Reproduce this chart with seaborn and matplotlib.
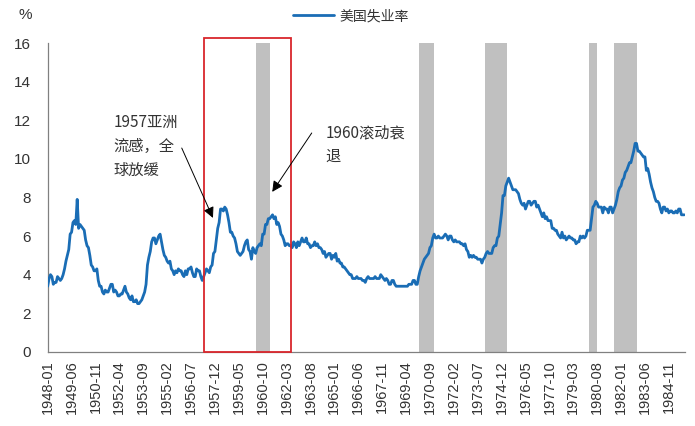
import numpy as np
import pandas as pd
import matplotlib
matplotlib.use("Agg")
import matplotlib.pyplot as plt
from matplotlib.patches import Rectangle
import seaborn as sns

# ---------------- data ----------------
start_month = "1948-01"
end_month = "1985-10"
unemployment_rate = [
    3.4, 3.8, 4.0, 3.9, 3.5, 3.6, 3.6, 3.9, 3.8, 3.7, 3.8, 4.0,   # 1948
    4.3, 4.7, 5.0, 5.3, 6.1, 6.2, 6.7, 6.8, 6.6, 7.9, 6.4, 6.6,   # 1949
    6.5, 6.4, 6.3, 5.8, 5.5, 5.4, 5.0, 4.5, 4.4, 4.2, 4.2, 4.3,   # 1950
    3.7, 3.4, 3.4, 3.1, 3.0, 3.2, 3.1, 3.1, 3.3, 3.5, 3.5, 3.1,   # 1951
    3.2, 3.1, 2.9, 2.9, 3.0, 3.0, 3.2, 3.4, 3.1, 3.0, 2.8, 2.7,   # 1952
    2.9, 2.6, 2.6, 2.7, 2.5, 2.5, 2.6, 2.7, 2.9, 3.1, 3.5, 4.5,   # 1953
    4.9, 5.2, 5.7, 5.9, 5.9, 5.6, 5.8, 6.0, 6.1, 5.7, 5.3, 5.0,   # 1954
    4.9, 4.7, 4.6, 4.7, 4.3, 4.2, 4.0, 4.2, 4.1, 4.3, 4.2, 4.2,   # 1955
    4.0, 3.9, 4.2, 4.0, 4.3, 4.3, 4.4, 4.1, 3.9, 3.9, 4.3, 4.2,   # 1956
    4.2, 3.9, 3.7, 3.9, 4.1, 4.3, 4.2, 4.1, 4.4, 4.5, 5.1, 5.2,   # 1957
    5.8, 6.4, 6.7, 7.4, 7.4, 7.3, 7.5, 7.4, 7.1, 6.7, 6.2, 6.2,   # 1958
    6.0, 5.9, 5.6, 5.2, 5.1, 5.0, 5.1, 5.2, 5.5, 5.7, 5.8, 5.3,   # 1959
    5.2, 4.8, 5.4, 5.2, 5.1, 5.4, 5.5, 5.6, 5.5, 6.1, 6.1, 6.6,   # 1960
    6.6, 6.9, 6.9, 7.0, 7.1, 6.9, 7.0, 6.6, 6.7, 6.5, 6.1, 6.0,   # 1961
    5.8, 5.5, 5.6, 5.6, 5.5, 5.5, 5.4, 5.7, 5.6, 5.4, 5.7, 5.5,   # 1962
    5.7, 5.9, 5.7, 5.7, 5.9, 5.6, 5.6, 5.4, 5.5, 5.5, 5.7, 5.5,   # 1963
    5.6, 5.4, 5.4, 5.3, 5.1, 5.2, 4.9, 5.0, 5.1, 5.1, 4.8, 5.0,   # 1964
    4.9, 5.1, 4.7, 4.8, 4.6, 4.6, 4.4, 4.4, 4.3, 4.2, 4.1, 4.0,   # 1965
    4.0, 3.8, 3.8, 3.8, 3.9, 3.8, 3.8, 3.8, 3.7, 3.7, 3.6, 3.8,   # 1966
    3.9, 3.8, 3.8, 3.8, 3.8, 3.9, 3.8, 3.8, 3.8, 4.0, 3.9, 3.8,   # 1967
    3.7, 3.8, 3.7, 3.5, 3.5, 3.7, 3.7, 3.5, 3.4, 3.4, 3.4, 3.4,   # 1968
    3.4, 3.4, 3.4, 3.4, 3.4, 3.5, 3.5, 3.5, 3.7, 3.7, 3.5, 3.5,   # 1969
    3.9, 4.2, 4.4, 4.6, 4.8, 4.9, 5.0, 5.1, 5.4, 5.5, 5.9, 6.1,   # 1970
    5.9, 5.9, 6.0, 5.9, 5.9, 5.9, 6.0, 6.1, 6.0, 5.8, 6.0, 6.0,   # 1971
    5.8, 5.7, 5.8, 5.7, 5.7, 5.7, 5.6, 5.6, 5.5, 5.6, 5.3, 5.2,   # 1972
    4.9, 5.0, 4.9, 5.0, 4.9, 4.9, 4.8, 4.8, 4.8, 4.6, 4.8, 4.9,   # 1973
    5.1, 5.2, 5.1, 5.1, 5.1, 5.4, 5.5, 5.5, 5.9, 6.0, 6.6, 7.2,   # 1974
    8.1, 8.1, 8.6, 8.8, 9.0, 8.8, 8.6, 8.4, 8.4, 8.4, 8.3, 8.2,   # 1975
    7.9, 7.7, 7.6, 7.7, 7.4, 7.6, 7.8, 7.8, 7.6, 7.7, 7.8, 7.8,   # 1976
    7.5, 7.6, 7.4, 7.2, 7.0, 7.2, 6.9, 7.0, 6.8, 6.8, 6.8, 6.4,   # 1977
    6.4, 6.3, 6.3, 6.1, 6.0, 5.9, 6.2, 5.9, 6.0, 5.8, 5.9, 6.0,   # 1978
    5.9, 5.9, 5.8, 5.8, 5.6, 5.7, 5.7, 6.0, 5.9, 6.0, 5.9, 6.0,   # 1979
    6.3, 6.3, 6.3, 6.9, 7.5, 7.6, 7.8, 7.7, 7.5, 7.5, 7.5, 7.2,   # 1980
    7.5, 7.4, 7.4, 7.2, 7.5, 7.5, 7.2, 7.4, 7.6, 7.9, 8.3, 8.5,   # 1981
    8.6, 8.9, 9.0, 9.3, 9.4, 9.6, 9.8, 9.8, 10.1, 10.4, 10.8, 10.8,  # 1982
    10.4, 10.4, 10.3, 10.2, 10.1, 10.1, 9.4, 9.5, 9.2, 8.8, 8.5, 8.3,  # 1983
    8.0, 7.8, 7.8, 7.7, 7.4, 7.2, 7.5, 7.5, 7.3, 7.4, 7.2, 7.3,   # 1984
    7.3, 7.2, 7.2, 7.3, 7.2, 7.4, 7.4, 7.1, 7.1, 7.1,             # 1985
]
recession_starts = ["1960-04", "1969-12", "1973-11", "1980-01", "1981-07"]
recession_ends = ["1961-02", "1970-11", "1975-03", "1980-07", "1982-11"]
highlight_start = "1957-04"
highlight_end = "1962-06"
series_name = "美国失业率"
note_1957 = "1957亚洲\n流感，全\n球放缓"
note_1960 = "1960滚动衰\n退"
y_ticks = [0, 2, 4, 6, 8, 10, 12, 14, 16]

months = pd.period_range(start_month, end_month, freq="M").strftime("%Y-%m").tolist()
df = pd.DataFrame({"month": months, "rate": unemployment_rate})
df["idx"] = np.arange(len(df))
pos = {m: i for i, m in enumerate(months)}

# ---------------- style ----------------
sns.set_theme(style="white")
plt.rcParams["font.family"] = ["Liberation Sans", "Noto Sans CJK SC", "DejaVu Sans"]

fig = plt.figure(figsize=(6.95, 4.26), dpi=100)
ax = fig.add_axes([0.0686, 0.174, 0.917, 0.725])

line_color = "#1a6db5"
# recession bands
for s, e in zip(recession_starts, recession_ends):
    ax.axvspan(pos[s] + 1, pos[e] + 1, ymin=0, ymax=1, color="#c0c0c0", lw=0, zorder=1)

sns.lineplot(data=df, x="idx", y="rate", ax=ax, color=line_color, lw=2.0,
             label=series_name, zorder=3)

# red highlight box
x0, x1 = pos[highlight_start], pos[highlight_end]
rect = Rectangle((x0, 0), x1 - x0, 16.25, fill=False, edgecolor="#d9262c",
                 lw=1.3, clip_on=False, zorder=4)
ax.add_patch(rect)

ax.set_xlim(0, len(df) - 0.5)
ax.set_ylim(0, 16)
ax.set_yticks(y_ticks)
ax.set_yticklabels([str(v) for v in y_ticks], fontsize=11, color="#333333")
tick_idx = [i for i in range(0, len(df), 17) if i <= pos["1984-11"]]
ax.set_xticks(tick_idx)
ax.set_xticklabels([months[i] for i in tick_idx], rotation=90, fontsize=10.5,
                   color="#333333")
ax.set_xlabel("")
ax.set_ylabel("")
for side in ["top", "right"]:
    ax.spines[side].set_visible(False)
for side in ["left", "bottom"]:
    ax.spines[side].set_color("#808080")
    ax.spines[side].set_linewidth(0.9)
ax.tick_params(axis="x", direction="inout", length=6, width=0.8, color="#808080", pad=3)
ax.tick_params(axis="y", direction="out", length=4, width=0.8, color="#808080", pad=8)
ax.grid(False)

# annotations
cjk = ["Noto Sans CJK SC", "DejaVu Sans"]
ax.text(47, 12.3, note_1957, fontsize=11, color="#333333", va="top", ha="left",
        linespacing=1.5, family=cjk, zorder=5)
ax.annotate("", xy=(117.6, 6.94), xytext=(95.4, 10.56),
            arrowprops=dict(arrowstyle="-|>", color="black", lw=0.7,
                            mutation_scale=16, shrinkA=0, shrinkB=0), zorder=5)
ax.text(197.5, 11.8, note_1960, fontsize=11, color="#333333", va="top", ha="left",
        linespacing=1.5, family=cjk, zorder=5)
ax.annotate("", xy=(159.8, 8.29), xytext=(187.9, 11.34),
            arrowprops=dict(arrowstyle="-|>", color="black", lw=0.7,
                            mutation_scale=16, shrinkA=0, shrinkB=0), zorder=5)

# legend
ax.legend_.remove()
handles, labels = ax.get_legend_handles_labels()
leg = fig.legend(handles, labels, loc="center", bbox_to_anchor=(0.505, 0.962),
                 frameon=False, handlelength=2.9, handletextpad=0.4,
                 prop={"family": cjk, "size": 10})
for t in leg.get_texts():
    t.set_color("#333333")

fig.text(25 / 695, 1 - 15 / 426, "%", fontsize=11, color="#333333", ha="center", va="center")

fig.savefig("out.png", dpi=100)
